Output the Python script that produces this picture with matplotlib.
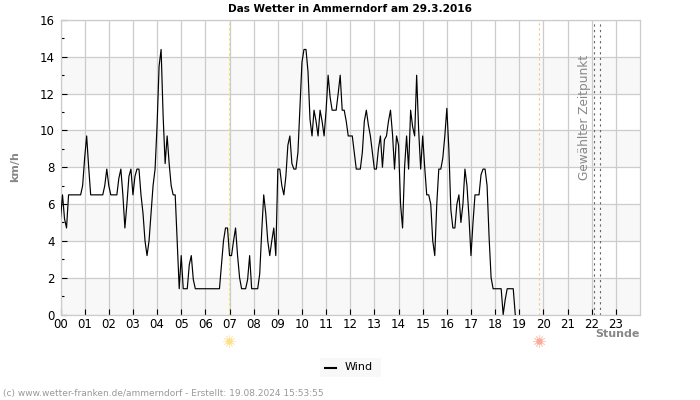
# -*- coding: utf-8 -*-
import numpy as np
import matplotlib
matplotlib.use('Agg')
import matplotlib.pyplot as plt
from matplotlib.patches import Rectangle

# wind in km/h, 5 minute values, one row per hour
wind = [
    5.2, 6.5, 5.2, 4.7, 6.5, 6.5, 6.5, 6.5, 6.5, 6.5, 6.5, 7.0,
    8.5, 9.7, 8.0, 6.5, 6.5, 6.5, 6.5, 6.5, 6.5, 6.5, 7.0, 7.9,
    7.0, 6.5, 6.5, 6.5, 6.5, 7.4, 7.9, 6.5, 4.7, 6.0, 7.5, 7.9,
    6.5, 7.5, 7.9, 7.9, 6.5, 5.5, 4.0, 3.2, 4.0, 5.5, 7.0, 7.9,
    10.3, 13.5, 14.4, 10.8, 8.2, 9.7, 8.2, 7.0, 6.5, 6.5, 4.0, 1.4,
    3.2, 1.4, 1.4, 1.4, 2.7, 3.2, 1.9, 1.4, 1.4, 1.4, 1.4, 1.4,
    1.4, 1.4, 1.4, 1.4, 1.4, 1.4, 1.4, 1.4, 2.7, 4.0, 4.7, 4.7,
    3.2, 3.2, 4.0, 4.7, 3.2, 2.0, 1.4, 1.4, 1.4, 1.9, 3.2, 1.4,
    1.4, 1.4, 1.4, 2.2, 4.5, 6.5, 5.5, 4.0, 3.2, 4.0, 4.7, 3.2,
    7.9, 7.9, 7.0, 6.5, 7.5, 9.2, 9.7, 8.2, 7.9, 7.9, 8.8, 11.2,
    13.7, 14.4, 14.4, 13.2, 10.6, 9.7, 11.1, 10.5, 9.7, 11.1, 10.5, 9.7,
    11.1, 13.0, 11.8, 11.1, 11.1, 11.1, 12.0, 13.0, 11.1, 11.1, 10.5, 9.7,
    9.7, 9.7, 8.8, 7.9, 7.9, 7.9, 8.8, 10.5, 11.1, 10.3, 9.7, 8.8,
    7.9, 7.9, 9.0, 9.7, 8.0, 9.5, 9.7, 10.5, 11.1, 9.8, 7.9, 9.7,
    9.2, 6.0, 4.7, 8.0, 9.7, 7.9, 11.1, 10.2, 9.7, 13.0, 10.0, 7.9,
    9.7, 8.0, 6.5, 6.5, 6.0, 4.0, 3.2, 6.0, 7.9, 7.9, 8.5, 9.7,
    11.2, 9.0, 5.7, 4.7, 4.7, 6.0, 6.5, 5.0, 6.0, 7.9, 7.0, 5.3,
    3.2, 5.0, 6.5, 6.5, 6.5, 7.6, 7.9, 7.9, 7.0, 4.2, 2.0, 1.4,
    1.4, 1.4, 1.4, 1.4, 0.0, 0.8, 1.4, 1.4, 1.4, 1.4, 0.0,
]
hours = np.arange(len(wind)) * 5 / 60
hour_labels = ['%02d' % h for h in range(24)]

sunrise = 6.98
sunset = 19.82
selected = [22.09, 22.33]

fig = plt.figure(figsize=(7, 4), dpi=100)
ax = fig.add_axes([60.5 / 700, 1 - 314.5 / 400, 579.5 / 700, 294.5 / 400])
ax.set_xlim(0, 24)
ax.set_ylim(0, 16)

# alternating bands
for y in range(0, 16, 4):
    ax.axhspan(y, y + 2, color='#f8f8f8', lw=0, zorder=0)
ax.grid(True, which='major', color='#cccccc', lw=0.9, zorder=1)
ax.set_axisbelow(True)

ax.set_xticks(range(24))
ax.set_xticklabels(hour_labels, fontsize=8.5)
ax.set_yticks(range(0, 17, 2))
ax.set_yticks(range(1, 16, 2), minor=True)
ax.tick_params(axis='x', direction='in', length=4, width=0.8, pad=2.5)
ax.tick_params(axis='y', which='major', direction='in', length=4, width=0.8, labelsize=8.5, pad=4)
ax.tick_params(axis='y', which='minor', direction='in', length=2, width=0.8)
for s in ax.spines.values():
    s.set_color('#cccccc')
    s.set_linewidth(0.9)

ax.axvline(sunrise, color='#f0e060', lw=0.8, ls=(0, (2, 2.5)), zorder=2)
ax.axvline(sunset, color='#f5c58a', lw=0.8, ls=(0, (2, 2.5)), zorder=2)
for x in selected:
    ax.axvline(x, color='#666666', lw=0.8, ls=(0, (2, 3)), zorder=2)

line, = ax.plot(hours, wind, color='black', lw=0.85, zorder=3, label='Wind')

ax.text(21.72, 7.3, 'Gewählter Zeitpunkt', rotation=90, fontsize=8.7, color='#888888',
        ha='center', va='bottom', zorder=4)

# sun symbols below the axis
trans = ax.get_xaxis_transform()
for x, col in [(sunrise, '#fde08a'), (sunset, '#fbab98')]:
    ax.plot([x], [-0.09], marker='o', ms=4.5, mfc=col, mec='none', transform=trans, clip_on=False)
    ax.plot([x], [-0.09], marker=(12, 2, 0), ms=9, mec=col, mew=0.6, alpha=0.6,
            transform=trans, clip_on=False)

fig.text(15.5 / 700, 1 - 167 / 400, 'km/h', rotation=90, fontsize=8, fontweight='bold',
         color='#888888', ha='center', va='center')
fig.text(640 / 700, 1 - 334 / 400, 'Stunde', fontsize=8, fontweight='bold', color='#888888',
         ha='right', va='center')
fig.text(349.5 / 700, 1 - 8.5 / 400, 'Das Wetter in Ammerndorf am 29.3.2016', fontsize=7.6,
         fontweight='bold', ha='center', va='center')

# legend
fig.add_artist(Rectangle((320 / 700, 1 - 377 / 400), 61 / 700, 19 / 400, color='#f8f8f8', lw=0,
                         transform=fig.transFigure))
fig.add_artist(plt.Line2D([325 / 700, 336 / 700], [1 - 367.5 / 400] * 2, color='black', lw=1.5,
                          transform=fig.transFigure))
fig.text(345 / 700, 1 - 366.5 / 400, 'Wind', fontsize=8, ha='left', va='center')

fig.text(3 / 700, 1 - 393.5 / 400, '(c) www.wetter-franken.de/ammerndorf - Erstellt: 19.08.2024 15:53:55',
         fontsize=6.5, color='#999999', ha='left', va='center')

fig.savefig('out.png', dpi=100)
